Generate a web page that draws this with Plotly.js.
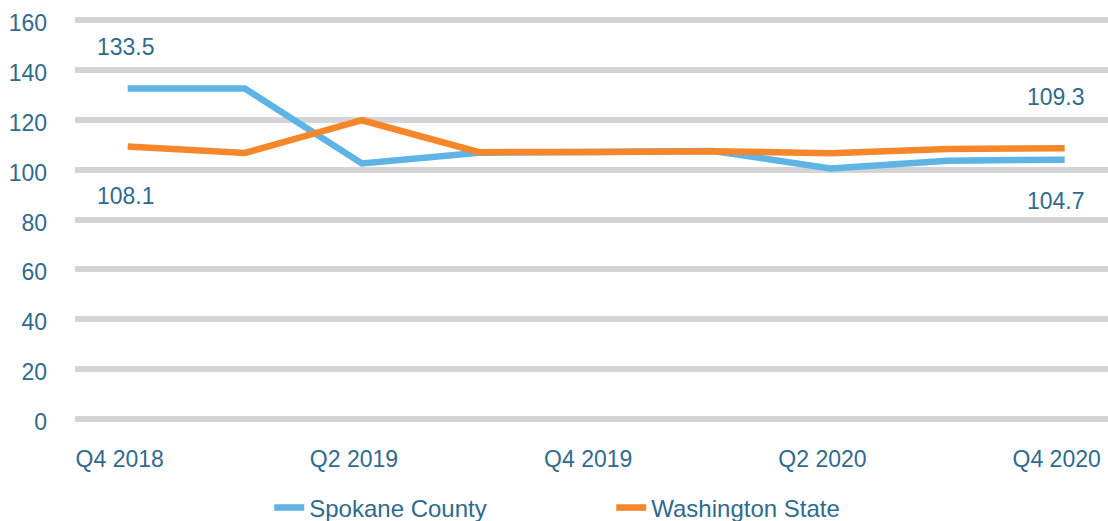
<!DOCTYPE html>
<html>
<head>
<meta charset="utf-8">
<script src="https://cdn.plot.ly/plotly-3.0.1.min.js"></script>
<style>
  html, body { margin: 0; padding: 0; background: #ffffff; }
  #chart { width: 1108px; height: 521px; }
</style>
</head>
<body>
<div id="chart"></div>
<script>
const quarters = ["Q4 2018", "Q1 2019", "Q2 2019", "Q3 2019", "Q4 2019", "Q1 2020", "Q2 2020", "Q3 2020", "Q4 2020"];
const spokane = [132.5, 132.5, 102.5, 106.8, 107.1, 107.5, 100.5, 103.6, 104.0];
const washington = [109.3, 106.7, 119.8, 107.0, 107.1, 107.4, 106.6, 108.3, 108.6];
const labelTexts = ["133.5", "108.1", "109.3", "104.7"];
const xTickLabels = ["Q4 2018", "Q2 2019", "Q4 2019", "Q2 2020", "Q4 2020"];
const yTicks = [0, 20, 40, 60, 80, 100, 120, 140, 160];

const textColor = "#2e6b8e";
const fontFamily = "Liberation Sans, Arial, sans-serif";

const traces = [
  {
    x: quarters, y: spokane, name: "Spokane County", type: "scatter", mode: "lines",
    line: { color: "#5db4e5", width: 6.5 }
  },
  {
    x: quarters, y: washington, name: "Washington State", type: "scatter", mode: "lines",
    line: { color: "#f5872a", width: 6.5 }
  }
];

const annotations = [
  { x: quarters[0], y: spokane[0], text: labelTexts[0], yshift: 42, xshift: -2 },
  { x: quarters[0], y: washington[0], text: labelTexts[1], yshift: -50, xshift: -2 },
  { x: quarters[8], y: washington[8], text: labelTexts[2], yshift: 51, xshift: -9 },
  { x: quarters[8], y: spokane[8], text: labelTexts[3], yshift: -41, xshift: -9 }
].map(a => Object.assign({
  xref: "x", yref: "y", showarrow: false,
  font: { family: fontFamily, size: 23, color: textColor }
}, a));

const layout = {
  width: 1108, height: 521,
  margin: { l: 75, r: 0, t: 12, b: 94 },
  paper_bgcolor: "#ffffff", plot_bgcolor: "#ffffff",
  font: { family: fontFamily, size: 23, color: textColor },
  showlegend: true,
  legend: {
    orientation: "h", xref: "container", yref: "container",
    x: 0.243, xanchor: "left", y: 0.025, yanchor: "middle",
    font: { family: fontFamily, size: 24, color: textColor },
    entrywidth: 297, entrywidthmode: "pixels"
  },
  xaxis: {
    type: "category",
    range: [-0.45, 8.37],
    tickmode: "array",
    tickvals: xTickLabels,
    ticktext: xTickLabels,
    showgrid: false, zeroline: false, showline: false,
    ticks: "", ticklabelstandoff: 16, ticklabelshift: -8,
    tickfont: { family: fontFamily, size: 23, color: textColor }
  },
  yaxis: {
    range: [-3.2, 163.2],
    tickmode: "array", tickvals: yTicks,
    showgrid: true, gridcolor: "#d4d4d6", gridwidth: 6,
    zeroline: false, showline: false, ticks: "",
    ticklabelstandoff: 27, ticklabelshift: 3,
    tickfont: { family: fontFamily, size: 23, color: textColor }
  },
  annotations: annotations
};

Plotly.newPlot("chart", traces, layout, { displayModeBar: false, staticPlot: true });
</script>
</body>
</html>
